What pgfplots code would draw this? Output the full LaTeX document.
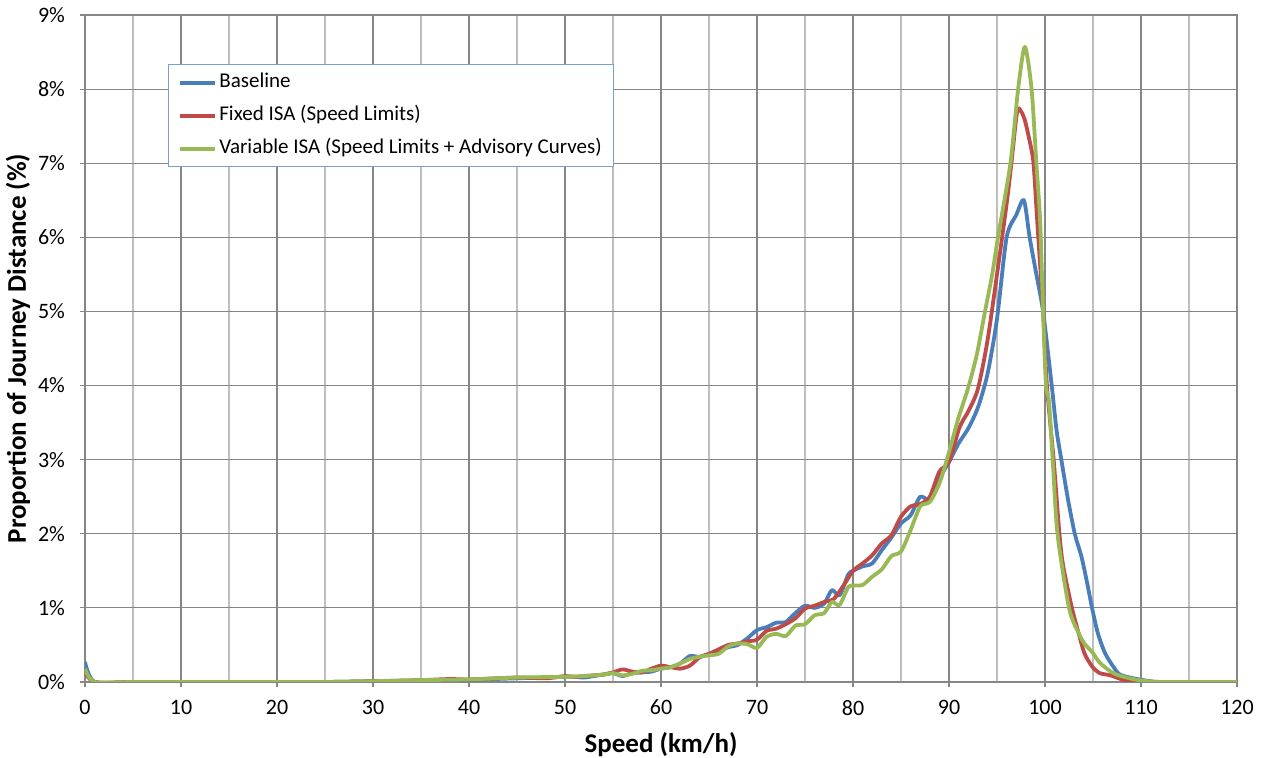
\documentclass[border=0pt]{standalone}
\usepackage{fontspec}
\setmainfont{Carlito}
\usepackage{pgfplots}
\pgfplotsset{compat=1.18}
\definecolor{cBlue}{HTML}{4A7EBB}
\definecolor{cRed}{HTML}{BE4B48}
\definecolor{cGreen}{HTML}{98B954}
\definecolor{gridmaj}{HTML}{868686}
\definecolor{gridmin}{HTML}{BFBFBF}
\definecolor{legborder}{HTML}{7BA0CD}
\begin{document}
\begin{tikzpicture}
\useasboundingbox (-42.5pt,-38pt) rectangle (591.5pt,341pt);
\begin{axis}[
  scale only axis, width=576pt, height=333.5pt,
  xmin=0, xmax=120, ymin=0, ymax=9,
  xtick={0,10,...,120}, minor xtick={5,15,...,115},
  ytick={0,1,...,9},
  yticklabels={0\%,1\%,2\%,3\%,4\%,5\%,6\%,7\%,8\%,9\%},
  xmajorgrids, ymajorgrids, xminorgrids,
  major grid style={draw=gridmaj, line width=0.6pt},
  minor grid style={draw=gridmin, line width=0.6pt},
  axis line style={draw=gridmaj, line width=0.6pt},
  tick align=outside, major tick length=2.5pt, minor tick length=0pt,
  tick style={draw=gridmaj, line width=0.6pt},
  xtick pos=lower, ytick pos=left,
  /pgf/number format/assume math mode=true,
  ticklabel style={font=\fontsize{11}{13}\selectfont},
  xticklabel style={yshift=-3pt},
  yticklabel style={xshift=-4pt},
  xlabel={\textbf{Speed (km/h)}},
  ylabel={\textbf{Proportion of Journey Distance (\%)}},
  label style={font=\fontsize{13.5}{16}\selectfont},
  xlabel style={at={(axis description cs:0.5,0)}, yshift=-31.5pt, anchor=center},
  ylabel style={at={(axis description cs:0,0.5)}, anchor=center, yshift=33.5pt},
  legend style={at={(rel axis cs:0.072,0.9265)}, anchor=north west,
    draw=legborder, line width=0.6pt, fill=white,
    font=\fontsize{10.5}{12}\selectfont,
    inner xsep=5pt, inner ysep=3pt, row sep=4.5pt,
    nodes={inner sep=1pt, text depth=2.5pt, text height=7.5pt}},
  legend cell align=left,
  legend image code/.code={\draw[#1, line width=1.9pt] (0pt,0pt) -- (17.5pt,0pt);},
  every axis plot/.append style={line width=1.9pt, line join=round, smooth, tension=0.45},
]
\addplot[cBlue] coordinates {
(0,0.27)(1,0)(5,0)(10,0)(15,0)(20,0)(25,0)(30,0.01)(35,0.02)(40,0.03)(45,0.05)(48,0.06)
(50,0.07)(51,0.07)(52,0.06)(53,0.08)(54,0.1)(55,0.12)(56,0.08)(57,0.12)(58,0.13)(59,0.14)
(60,0.18)(61,0.2)(62,0.25)(63,0.35)(64,0.34)(65,0.38)(66,0.42)(67,0.47)(68,0.5)(69,0.59)
(70,0.70)(71,0.74)(72,0.8)(73,0.81)(74,0.93)(75,1.03)(76,1.0)(77,1.06)(77.8,1.24)(78.6,1.17)
(79.5,1.45)(80,1.5)(81,1.56)(82,1.6)(83,1.78)(84,1.95)(85,2.14)(86,2.25)(87,2.5)(88,2.46)
(89,2.75)(90,2.97)(91,3.22)(92,3.42)(93,3.7)(94,4.15)(95,4.9)(96,6.0)(97,6.3)(97.8,6.5)
(98.4,6.0)(99.1,5.5)(99.8,5.0)(100.7,4.0)(101.2,3.4)(101.7,3.0)(102.4,2.46)(103.1,2.0)
(103.8,1.69)(104.4,1.33)(104.9,1.0)(105.5,0.66)(106.25,0.39)(107.1,0.21)(107.8,0.1)
(109.2,0.05)(110,0.03)(111,0.01)(112,0)(115,0)(120,0)
};
\addlegendentry{Baseline}
\addplot[cRed] coordinates {
(0,0.14)(1,0)(5,0)(10,0)(15,0)(20,0)(25,0)(30,0.01)(35,0.025)(38,0.04)(40,0.035)(45,0.06)(48,0.05)
(50,0.08)(51,0.07)(52,0.08)(53,0.09)(54,0.1)(55,0.13)(56,0.17)(57,0.14)(58,0.13)(59,0.18)
(60,0.22)(61,0.2)(62,0.18)(63,0.22)(64,0.33)(65,0.38)(66,0.44)(67,0.5)(68,0.52)(69,0.55)
(70,0.57)(71,0.69)(72,0.72)(73,0.78)(74,0.86)(75,0.99)(76,1.03)(77,1.08)(78,1.12)(79,1.3)
(80,1.5)(81,1.6)(82,1.71)(83,1.87)(84,1.98)(85,2.23)(86,2.37)(87,2.4)(88,2.5)(89,2.84)
(90,2.97)(91,3.4)(91.5,3.54)(92,3.65)(93,3.95)(94,4.6)(95,5.5)(96,6.45)(96.5,7.0)(97.1,7.7)
(97.5,7.7)(97.9,7.58)(98.4,7.3)(98.8,7.0)(99.2,6.2)(99.8,5.0)(100.2,4.0)(100.9,3.0)(101.5,2.0)
(101.9,1.56)(102.8,1.0)(103.5,0.66)(104.1,0.39)(104.9,0.21)(105.7,0.12)(106.8,0.09)(108.1,0.03)
(109,0)(112,0)(115,0)(120,0)
};
\addlegendentry{Fixed ISA (Speed Limits)}
\addplot[cGreen] coordinates {
(0,0.18)(1,0)(5,0)(10,0)(15,0)(20,0)(25,0)(30,0.01)(35,0.025)(40,0.035)(45,0.06)(50,0.07)
(52,0.08)(54,0.1)(55,0.12)(56,0.09)(57,0.11)(58,0.15)(59,0.16)(60,0.18)(61,0.2)(62,0.25)
(63,0.31)(64,0.34)(65,0.36)(66,0.38)(67,0.48)(68,0.52)(69,0.51)(70,0.46)(71,0.61)(72,0.65)
(73,0.62)(74,0.76)(75,0.78)(76,0.9)(77,0.93)(77.8,1.08)(78.6,1.04)(79.5,1.28)(80,1.3)
(81,1.31)(82,1.42)(83,1.52)(84,1.7)(85,1.76)(86,2.05)(87,2.37)(88,2.43)(89,2.68)(90,3.1)
(91,3.57)(92,3.97)(92.9,4.42)(93.75,5.0)(94.5,5.5)(95.1,6.0)(96.4,7.0)(97.2,8.0)(97.9,8.57)
(98.6,8.0)(99.1,7.0)(99.5,6.2)(99.8,5.0)(100.1,4.0)(100.4,3.8)(100.8,3.0)(101.3,2.0)
(102.5,1.0)(103.5,0.66)(104.1,0.52)(105,0.39)(105.7,0.26)(107.1,0.12)(108.5,0.06)(110,0.02)
(112,0)(115,0)(120,0)
};
\addlegendentry{Variable ISA (Speed Limits + Advisory Curves)}
\end{axis}
\end{tikzpicture}
\end{document}
